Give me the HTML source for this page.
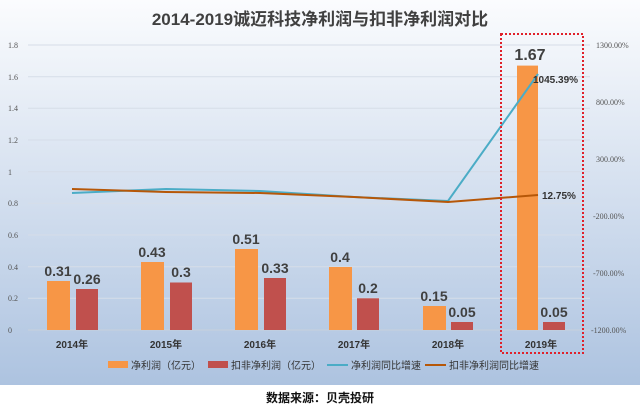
<!DOCTYPE html>
<html><head><meta charset="utf-8"><style>
body{margin:0;width:640px;height:410px;overflow:hidden;background:#fff;font-family:"Liberation Sans","Noto Sans CJK SC",sans-serif}
</style></head><body>
<svg width="640" height="410" xmlns="http://www.w3.org/2000/svg" style="font-family:'Liberation Sans','Noto Sans CJK SC',sans-serif">
<defs><linearGradient id="bg" x1="0" y1="0" x2="0" y2="1"><stop offset="0" stop-color="#fbfcfe"/><stop offset="1" stop-color="#adc3e0"/></linearGradient></defs>
<rect x="0" y="0" width="640" height="385" fill="url(#bg)"/>
<text x="320" y="25" text-anchor="middle" font-size="17" font-weight="bold" fill="#404040">2014-2019诚迈科技净利润与扣非净利润对比</text>
<g stroke="#d6dde8" stroke-width="1">
<line x1="28" x2="590" y1="45" y2="45"/><line x1="28" x2="590" y1="76.7" y2="76.7"/><line x1="28" x2="590" y1="108.3" y2="108.3"/><line x1="28" x2="590" y1="140" y2="140"/><line x1="28" x2="590" y1="171.7" y2="171.7"/><line x1="28" x2="590" y1="203.3" y2="203.3"/><line x1="28" x2="590" y1="235" y2="235"/><line x1="28" x2="590" y1="266.7" y2="266.7"/><line x1="28" x2="590" y1="298.3" y2="298.3"/><line x1="28" x2="590" y1="330" y2="330" stroke="#c8d0dc"/>
</g>
<g font-size="8" fill="#555" font-family="'Liberation Serif',serif">
<text x="8" y="48">1.8</text><text x="8" y="80">1.6</text><text x="8" y="111">1.4</text><text x="8" y="143">1.2</text><text x="8" y="175">1</text><text x="8" y="206">0.8</text><text x="8" y="238">0.6</text><text x="8" y="270">0.4</text><text x="8" y="301">0.2</text><text x="8" y="333">0</text>
<text x="596" y="48">1300.00%</text><text x="596" y="105">800.00%</text><text x="596" y="162">300.00%</text><text x="593" y="219">-200.00%</text><text x="593" y="276">-700.00%</text><text x="591" y="333">-1200.00%</text>
</g>
<g>
<rect x="47" y="281" width="23" height="49" fill="#f79646"/><rect x="76" y="289" width="22" height="41" fill="#c0504d"/>
<rect x="141" y="262" width="23" height="68" fill="#f79646"/><rect x="170" y="282.5" width="22" height="47.5" fill="#c0504d"/>
<rect x="235" y="249" width="23" height="81" fill="#f79646"/><rect x="264" y="278" width="22" height="52" fill="#c0504d"/>
<rect x="329" y="267" width="23" height="63" fill="#f79646"/><rect x="357" y="298.3" width="22" height="31.7" fill="#c0504d"/>
<rect x="423" y="306" width="23" height="24" fill="#f79646"/><rect x="451" y="322" width="22" height="8" fill="#c0504d"/>
<rect x="517" y="65.6" width="21" height="264.4" fill="#f79646"/><rect x="543" y="322" width="22" height="8" fill="#c0504d"/>
</g>
<polyline points="72,193 166,189 260,191 354,197 448,201 538,74" fill="none" stroke="#4bacc6" stroke-width="2"/>
<polyline points="72,189 166,192 260,193 354,197 448,202 538,195" fill="none" stroke="#b65708" stroke-width="2"/>
<g font-size="14" font-weight="bold" fill="#404040" text-anchor="middle">
<text x="58" y="276">0.31</text><text x="87" y="284">0.26</text>
<text x="152" y="257">0.43</text><text x="181" y="277">0.3</text>
<text x="246" y="244">0.51</text><text x="275" y="273">0.33</text>
<text x="340" y="262">0.4</text><text x="368" y="293">0.2</text>
<text x="434" y="301">0.15</text><text x="462" y="317">0.05</text>
<text x="530" y="60" font-size="16">1.67</text><text x="554" y="317">0.05</text>
</g>
<g font-size="10" font-weight="bold" fill="#333">
<text x="533" y="83">1045.39%</text><text x="542" y="199">12.75%</text>
</g>
<g font-size="10" fill="#333" font-weight="bold" text-anchor="middle">
<text x="72" y="348">2014年</text><text x="166" y="348">2015年</text><text x="260" y="348">2016年</text><text x="354" y="348">2017年</text><text x="448" y="348">2018年</text><text x="541" y="348">2019年</text>
</g>
<rect x="501" y="34" width="82" height="319" fill="none" stroke="#e0202a" stroke-width="2" stroke-dasharray="2,2"/>
<g font-size="10" fill="#333">
<rect x="108" y="361" width="20" height="7" fill="#f79646"/><text x="131" y="369">净利润（亿元）</text>
<rect x="208" y="361" width="20" height="7" fill="#c0504d"/><text x="231" y="369">扣非净利润（亿元）</text>
<line x1="327" x2="348" y1="365" y2="365" stroke="#4bacc6" stroke-width="2"/><text x="351" y="369">净利润同比增速</text>
<line x1="425" x2="446" y1="365" y2="365" stroke="#b65708" stroke-width="2"/><text x="449" y="369">扣非净利润同比增速</text>
</g>
<text x="320" y="402" text-anchor="middle" font-size="12" font-weight="bold" fill="#111">数据来源：贝壳投研</text>
</svg>
</body></html>
